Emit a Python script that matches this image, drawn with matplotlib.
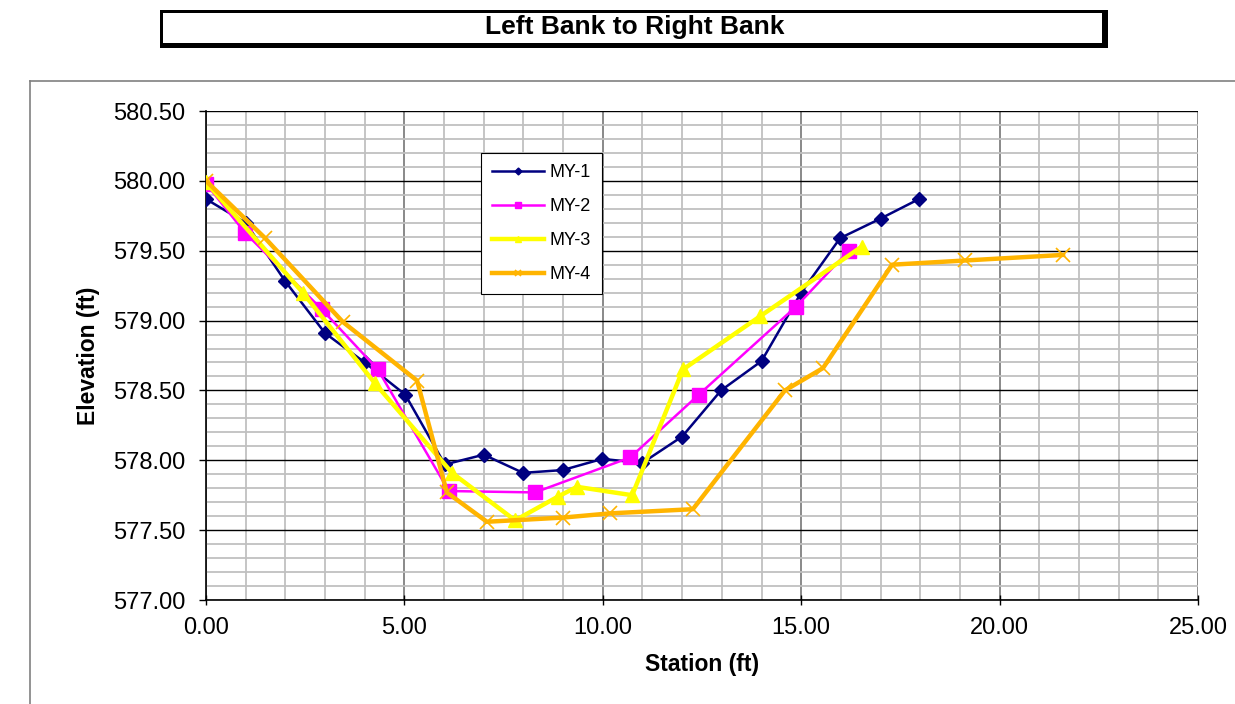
import matplotlib
matplotlib.use("Agg")
import matplotlib.pyplot as plt
from matplotlib.patches import Rectangle
from matplotlib.lines import Line2D
from matplotlib.ticker import MultipleLocator, FormatStrFormatter

plt.rcParams['font.family'] = ['Liberation Sans', 'DejaVu Sans']

# survey data: station (ft) vs elevation (ft)
my1_x = [0.0, 1.0, 2.0, 3.0, 4.0, 5.02, 6.02, 7.0, 7.99, 8.99, 9.99, 10.99, 12.0, 12.98, 14.0, 15.0, 15.98, 17.0, 17.97]
my1_y = [579.87, 579.70, 579.28, 578.91, 578.70, 578.47, 577.97, 578.04, 577.91, 577.93, 578.01, 577.98, 578.17, 578.50, 578.71, 579.20, 579.59, 579.73, 579.87]

my2_x = [0.0, 0.98, 2.92, 4.33, 6.12, 8.29, 10.69, 12.42, 14.87, 16.2]
my2_y = [579.98, 579.63, 579.08, 578.65, 577.78, 577.77, 578.02, 578.47, 579.10, 579.50]

my3_x = [0.0, 2.44, 4.26, 6.2, 7.79, 8.87, 9.35, 10.74, 12.02, 13.96, 16.53]
my3_y = [579.99, 579.20, 578.55, 577.91, 577.57, 577.74, 577.81, 577.75, 578.65, 579.03, 579.53]

my4_x = [0.0, 1.49, 3.45, 5.32, 6.07, 7.08, 9.0, 10.18, 12.27, 14.59, 15.55, 17.29, 19.13, 21.6]
my4_y = [580.0, 579.59, 578.99, 578.57, 577.77, 577.56, 577.59, 577.62, 577.65, 578.50, 578.66, 579.40, 579.43, 579.47]

W, H = 1235, 704
fig = plt.figure(figsize=(W / 100, H / 100), dpi=100)

# title box with heavier right/bottom edge
fig.patches.append(Rectangle((160 / W, 1 - 48 / H), 948 / W, 38 / H, transform=fig.transFigure,
                             facecolor='black', edgecolor='none'))
fig.patches.append(Rectangle((163 / W, 1 - 43 / H), 939 / W, 30 / H, transform=fig.transFigure,
                             facecolor='white', edgecolor='none'))
fig.text(635 / W, 1 - 27 / H, 'Left Bank to Right Bank', ha='center', va='center',
         fontsize=19, fontweight='bold')

# chart area frame
fig.add_artist(Line2D([30 / W, 1.0], [1 - 81 / H, 1 - 81 / H], color='#808080', lw=1.2,
                      transform=fig.transFigure))
fig.add_artist(Line2D([30 / W, 30 / W], [1 - 81 / H, 0], color='#808080', lw=1.2,
                      transform=fig.transFigure))

ax = fig.add_axes([206 / W, 1 - 600 / H, 992 / W, 489 / H])
ax.set_xlim(0, 25)
ax.set_ylim(577.0, 580.5)

ax.xaxis.set_major_locator(MultipleLocator(5))
ax.xaxis.set_minor_locator(MultipleLocator(1))
ax.yaxis.set_major_locator(MultipleLocator(0.5))
ax.yaxis.set_minor_locator(MultipleLocator(0.1))
ax.xaxis.set_major_formatter(FormatStrFormatter('%.2f'))
ax.yaxis.set_major_formatter(FormatStrFormatter('%.2f'))

ax.grid(which='minor', axis='both', color='#c0c0c0', lw=1.3)
ax.grid(which='major', axis='x', color='#808080', lw=1.3)
ax.grid(which='major', axis='y', color='black', lw=1.0)
ax.set_axisbelow(True)

for s in ['top', 'right']:
    ax.spines[s].set_visible(False)
for s in ['left', 'bottom']:
    ax.spines[s].set_color('black')
    ax.spines[s].set_linewidth(1.2)

ax.tick_params(which='minor', length=0)
ax.tick_params(axis='y', which='major', direction='out', length=5, width=1, pad=10, labelsize=17)
ax.tick_params(axis='x', which='major', direction='inout', length=7, width=1, pad=9, labelsize=17)

ax.plot(my1_x, my1_y, color='#000080', lw=1.8, marker='D', ms=7, label='MY-1', zorder=3)
ax.plot(my2_x, my2_y, color='#FF00FF', lw=1.8, marker='s', ms=10, label='MY-2', zorder=4)
ax.plot(my3_x, my3_y, color='#FFFF00', lw=3.2, marker='^', ms=10, label='MY-3', zorder=5)
ax.plot(my4_x, my4_y, color='#FFB400', lw=3.2, marker='x', ms=10, mew=1.2, label='MY-4', zorder=6)

ax.set_xlabel('Station (ft)', fontsize=16.5, fontweight='bold', labelpad=10)
ax.set_ylabel('Elevation (ft)', fontsize=16.5, fontweight='bold', labelpad=9)

leg = ax.legend(loc='upper left', bbox_to_anchor=(481 / W, 1 - 153 / H),
                bbox_transform=fig.transFigure, fontsize=13, frameon=True, fancybox=False,
                edgecolor='black', framealpha=1, borderpad=0.6, labelspacing=0.95,
                handlelength=2.9, handletextpad=0.3, markerscale=0.5, borderaxespad=0)
leg.get_frame().set_linewidth(0.8)

fig.savefig('out.png', dpi=100)
